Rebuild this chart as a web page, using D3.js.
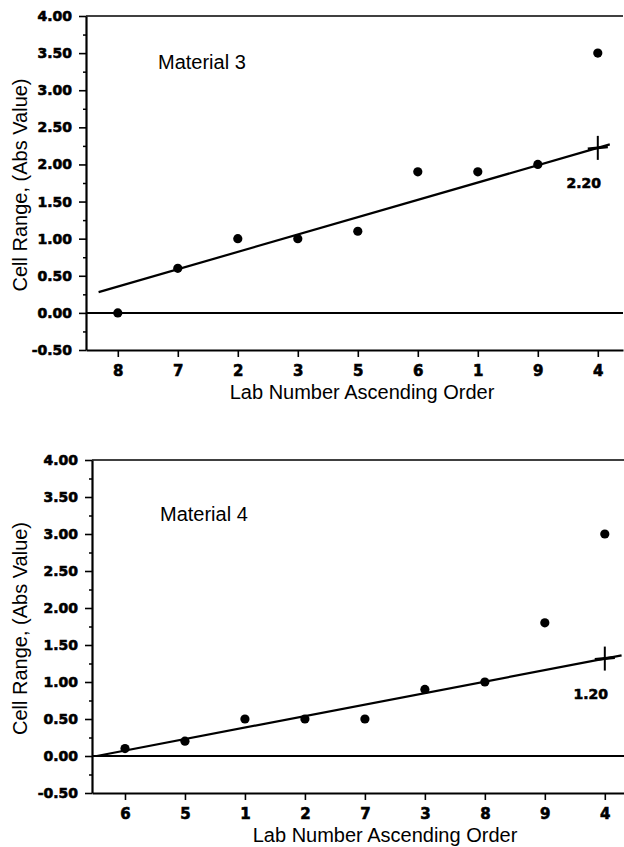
<!DOCTYPE html>
<html>
<head>
<meta charset="utf-8">
<script src="https://cdn.jsdelivr.net/npm/d3@7"></script>
<style>
  body { margin: 0; background: #fff; }
  .tick text, .heavy { font-family: "DejaVu Sans", sans-serif; font-weight: bold; fill: #000; stroke: #000; stroke-width: 0.6px; }
  .lbl { font-family: "Liberation Sans", Arial, sans-serif; font-size: 20px; fill: #000; }
</style>
</head>
<body>
<svg id="chart" width="624" height="847"></svg>
<script>
// data
const labsM3 = ["8", "7", "2", "3", "5", "6", "1", "9", "4"];
const rangeM3 = [0.0, 0.6, 1.0, 1.0, 1.1, 1.9, 1.9, 2.0, 3.5];
const trendM3 = [[-0.32, 0.28], [8.2, 2.27]];   // [lab index, value]

const labsM4 = ["6", "5", "1", "2", "7", "3", "8", "9", "4"];
const rangeM4 = [0.1, 0.2, 0.5, 0.5, 0.5, 0.9, 1.0, 1.8, 3.0];
const trendM4 = [[-0.47, 0.0], [8.28, 1.36]];

const yTicks = [-0.5, 0, 0.5, 1, 1.5, 2, 2.5, 3, 3.5, 4];
const yMinor = [-0.25, 0.25, 0.75, 1.25, 1.75, 2.25, 2.75, 3.25, 3.75];
const limitLabels = ["2.20", "1.20"];
const titles = ["Material 3", "Material 4"];

const svg = d3.select("#chart");

function drawPanel(p) {
  const x = d3.scaleLinear().domain(p.xDomain).range([p.left, p.right]);
  const y = d3.scaleLinear().domain([-0.5, 4]).range([p.bottom, p.top]);
  const g = svg.append("g");

  // top frame line
  g.append("line")
    .attr("x1", p.left).attr("x2", p.right)
    .attr("y1", y(4)).attr("y2", y(4))
    .attr("stroke", "#000").attr("stroke-width", 1.6);

  // zero line
  g.append("line")
    .attr("x1", p.left).attr("x2", p.right)
    .attr("y1", y(0)).attr("y2", y(0))
    .attr("stroke", "#000").attr("stroke-width", 2);

  // minor y ticks
  g.append("g")
    .attr("transform", "translate(" + p.left + ",0)")
    .call(d3.axisLeft(y).tickValues(yMinor).tickSize(3).tickFormat(""))
    .call(a => a.select(".domain").remove())
    .selectAll("line").attr("stroke-width", 1.5);

  // y axis
  const ya = g.append("g")
    .attr("transform", "translate(" + p.left + ",0)")
    .call(d3.axisLeft(y).tickValues(yTicks).tickSize(7).tickSizeOuter(0)
      .tickPadding(7).tickFormat(d => d.toFixed(2)));
  ya.select(".domain").attr("stroke-width", 2.2);
  ya.selectAll(".tick line").attr("stroke-width", 1.6);
  ya.selectAll(".tick text").style("font-size", "14px");

  // x axis
  const xa = g.append("g")
    .attr("transform", "translate(0," + y(-0.5) + ")")
    .call(d3.axisBottom(x).tickValues(d3.range(p.labs.length)).tickSize(7)
      .tickSizeOuter(0).tickPadding(8).tickFormat(i => p.labs[i]));
  xa.select(".domain").attr("stroke-width", 2.2);
  xa.selectAll(".tick line").attr("stroke-width", 1.6);
  xa.selectAll(".tick text").style("font-size", "15px");

  // trend line
  g.append("path")
    .datum(p.trend)
    .attr("d", d3.line().x(d => x(d[0])).y(d => y(d[1])))
    .attr("fill", "none").attr("stroke", "#000").attr("stroke-width", 2.2);

  // points
  g.append("g").selectAll("circle")
    .data(p.values)
    .enter()
    .append("circle")
    .attr("cx", (d, i) => x(i))
    .attr("cy", d => y(d))
    .attr("r", 4.6)
    .attr("fill", "#000");

  // limit marker on the trend line at the last lab
  const last = p.labs.length - 1;
  const t = (last - p.trend[0][0]) / (p.trend[1][0] - p.trend[0][0]);
  const lv = p.trend[0][1] + t * (p.trend[1][1] - p.trend[0][1]);
  const cx = x(last), cy = y(lv);
  g.append("line").attr("x1", cx).attr("x2", cx).attr("y1", cy - 12).attr("y2", cy + 12)
    .attr("stroke", "#000").attr("stroke-width", 2);
  g.append("line").attr("x1", cx - 10).attr("x2", cx + 10).attr("y1", cy + 1).attr("y2", cy - 1)
    .attr("stroke", "#000").attr("stroke-width", 3);
  g.append("text").attr("class", "heavy")
    .attr("x", cx - 14).attr("y", cy + 40)
    .attr("text-anchor", "middle")
    .style("font-size", "14px")
    .text(p.limit);

  // texts
  g.append("text").attr("class", "lbl")
    .attr("x", p.titleX).attr("y", p.titleY)
    .text(p.title);
  g.append("text").attr("class", "lbl")
    .attr("x", p.xTitleX).attr("y", y(-0.5) + 49)
    .attr("text-anchor", "middle")
    .text("Lab Number Ascending Order");
  g.append("text").attr("class", "lbl")
    .attr("transform", "translate(27," + ((p.top + p.bottom) / 2 + 2) + ") rotate(-90)")
    .attr("text-anchor", "middle")
    .text("Cell Range, (Abs Value)");
}

drawPanel({
  left: 86, right: 623, top: 16, bottom: 350, xDomain: [-0.53, 8.42],
  labs: labsM3, values: rangeM3, trend: trendM3, limit: limitLabels[0],
  title: titles[0], titleX: 158, titleY: 69, xTitleX: 362
});

drawPanel({
  left: 92, right: 624, top: 460, bottom: 793, xDomain: [-0.55, 8.32],
  labs: labsM4, values: rangeM4, trend: trendM4, limit: limitLabels[1],
  title: titles[1], titleX: 160, titleY: 521, xTitleX: 385
});
</script>
</body>
</html>
